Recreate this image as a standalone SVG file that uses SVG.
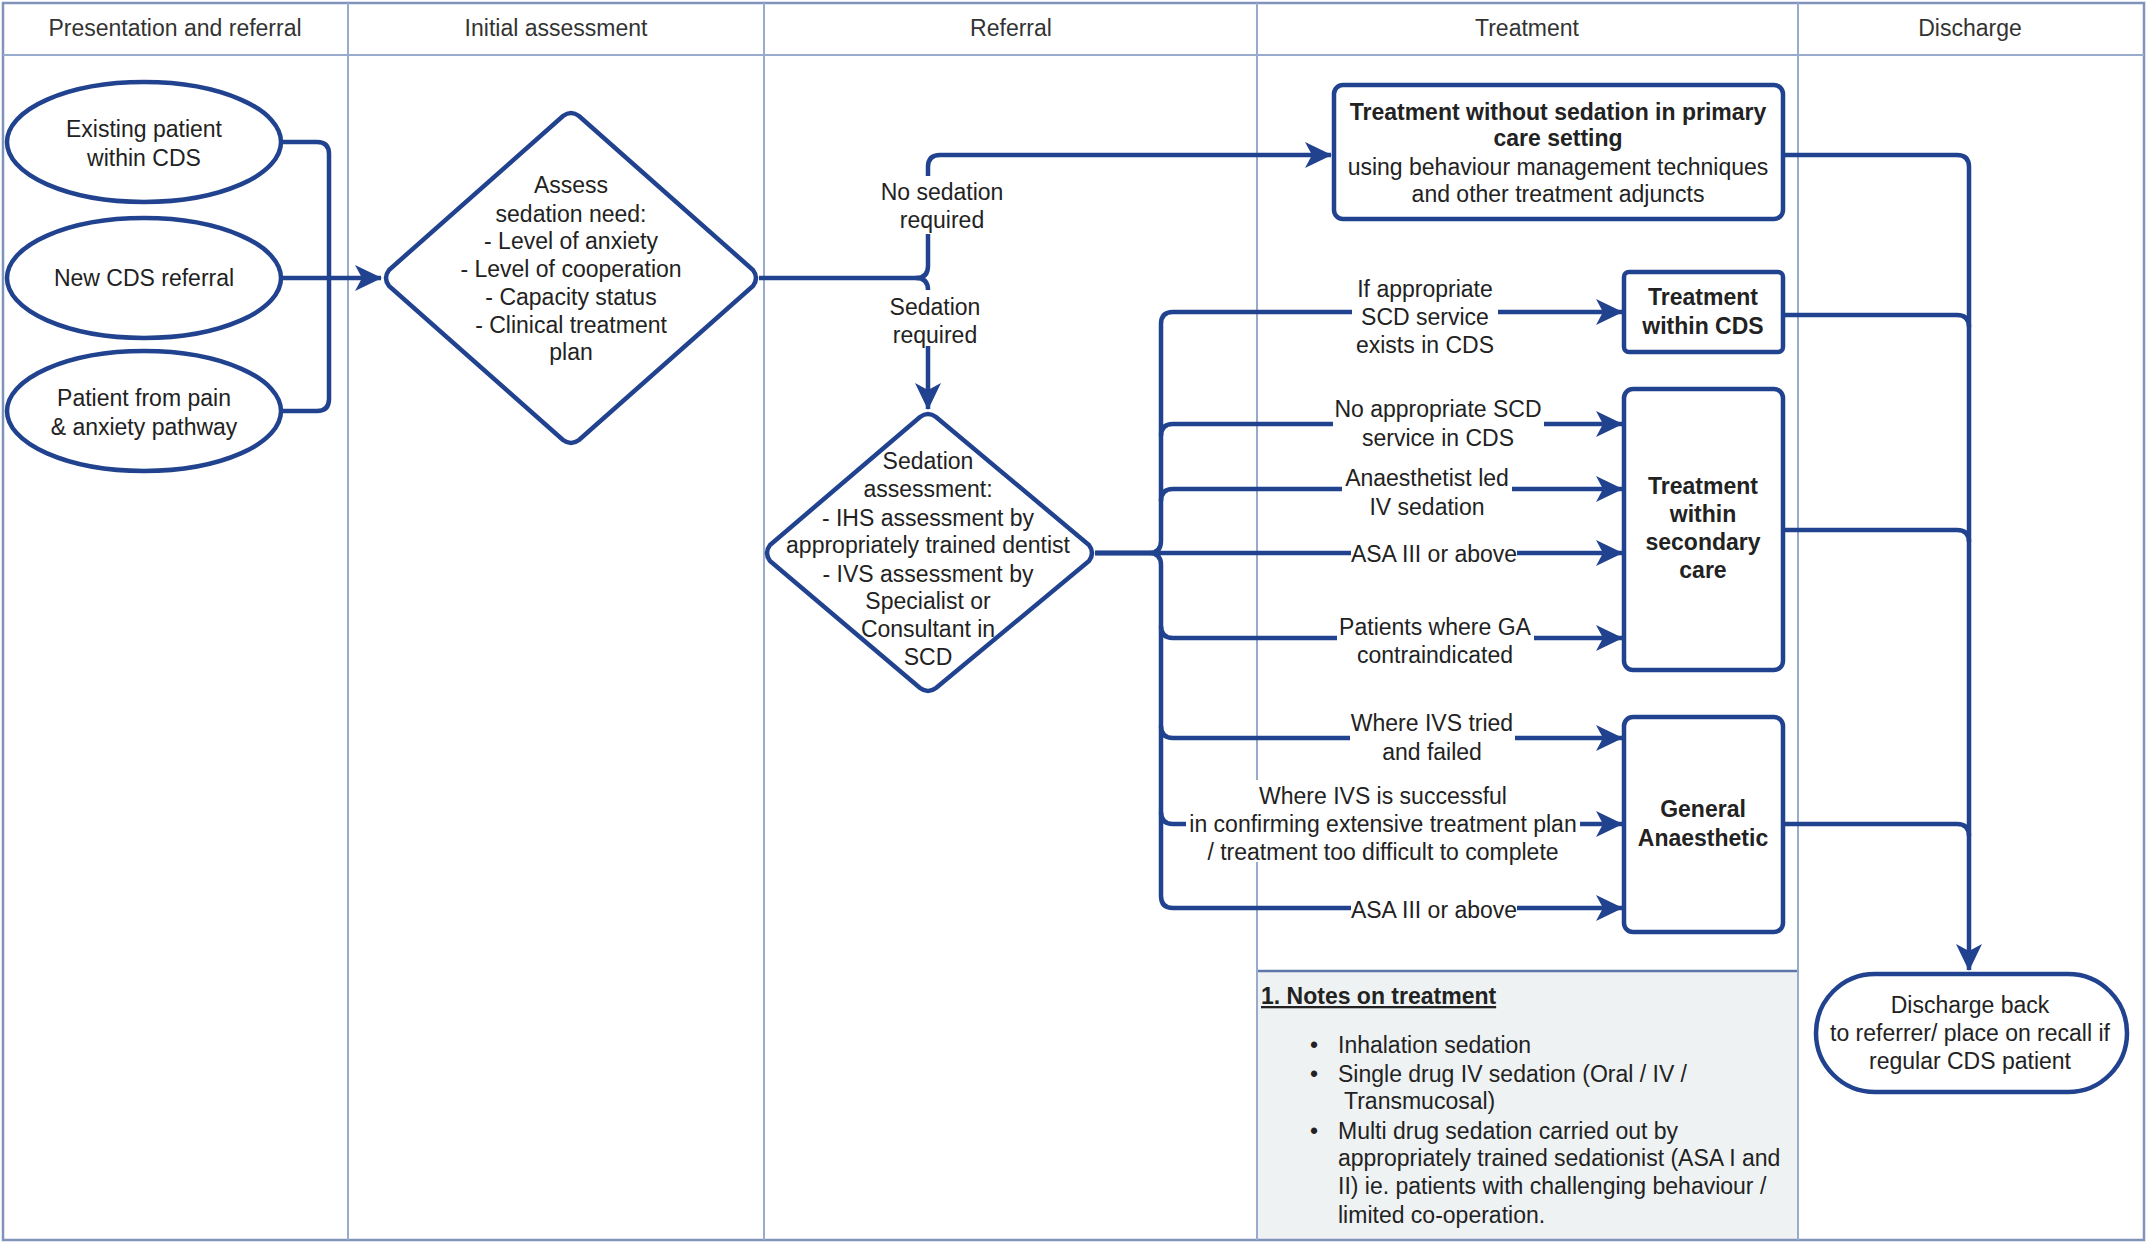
<svg xmlns="http://www.w3.org/2000/svg" width="2147" height="1243" viewBox="0 0 2147 1243">
<defs>
<marker id="arr" markerUnits="userSpaceOnUse" markerWidth="28" markerHeight="28" viewBox="0 0 28 28" refX="26" refY="14" orient="auto">
<path d="M0,1 L27,14 L0,27 L7,14 Z" fill="#21428f"/>
</marker>
<style>
.lane{stroke:#98abcc;stroke-width:2;fill:none}
.frame{stroke:#7f93bb;stroke-width:2.5;fill:none}
.hd{font-family:"Liberation Sans",Arial,sans-serif;font-size:23px;fill:#333;text-anchor:middle}
.node{fill:#fff;stroke:#21428f;stroke-width:4.5}
.t{font-family:"Liberation Sans",Arial,sans-serif;font-size:23px;fill:#222;text-anchor:middle}
.b{font-weight:bold}
.c{fill:none;stroke:#21428f;stroke-width:4.5;stroke-linejoin:round}
.ca{fill:none;stroke:#21428f;stroke-width:4.5;stroke-linejoin:round;marker-end:url(#arr)}
.lbg{fill:#fff}
.n{font-family:"Liberation Sans",Arial,sans-serif;font-size:23px;fill:#222}
</style>
</defs>
<rect width="2147" height="1243" fill="#fff"/>
<g id="lanes">
<rect x="1257" y="971" width="541" height="269" fill="#eef2f3"/>
<line x1="1257" y1="971" x2="1798" y2="971" stroke="#5f77a6" stroke-width="2.5"/>
<rect class="frame" x="3" y="3" width="2141" height="1237"/>
<line class="lane" x1="3" y1="55" x2="2144" y2="55"/>
<line class="lane" x1="348" y1="3" x2="348" y2="1240"/>
<line class="lane" x1="764" y1="3" x2="764" y2="1240"/>
<line class="lane" x1="1257" y1="3" x2="1257" y2="1240"/>
<line class="lane" x1="1798" y1="3" x2="1798" y2="1240"/>
<text class="hd" x="175" y="36">Presentation and referral</text>
<text class="hd" x="556" y="36">Initial assessment</text>
<text class="hd" x="1011" y="36">Referral</text>
<text class="hd" x="1527" y="36">Treatment</text>
<text class="hd" x="1970" y="36">Discharge</text>
</g>
<g id="connectors">
<path class="c" d="M281,142 H317 Q329,142 329,154 V278"/>
<path class="c" d="M281,411 H317 Q329,411 329,399 V278"/>
<path class="ca" d="M281,278 H381"/>
<path class="ca" d="M759,278 H916 Q928,278 928,266 V167 Q928,155 940,155 H1331"/>
<path class="ca" d="M916,278 Q928,278 928,290 V409"/>
<path class="ca" d="M1095,553 H1149 Q1161,553 1161,541 V324 Q1161,312 1173,312 H1622"/>
<path class="ca" d="M1161,436 Q1161,424 1173,424 H1622"/>
<path class="ca" d="M1161,501 Q1161,489 1173,489 H1622"/>
<path class="ca" d="M1095,553 H1622"/>
<path class="ca" d="M1095,553 H1149 Q1161,553 1161,565 V896 Q1161,908 1173,908 H1622"/>
<path class="ca" d="M1161,626 Q1161,638 1173,638 H1622"/>
<path class="ca" d="M1161,726 Q1161,738 1173,738 H1622"/>
<path class="ca" d="M1161,812 Q1161,824 1173,824 H1622"/>
<path class="ca" d="M1785,155 H1957 Q1969,155 1969,167 V970"/>
<path class="c" d="M1785,315 H1957 Q1969,315 1969,327"/>
<path class="c" d="M1785,530 H1957 Q1969,530 1969,542"/>
<path class="c" d="M1785,824 H1957 Q1969,824 1969,836"/>
<rect class="lbg" x="870" y="176" width="144" height="58"/>
<text class="t" x="942" y="200">No sedation</text>
<text class="t" x="942" y="228">required</text>
<rect class="lbg" x="880" y="290" width="110" height="56"/>
<text class="t" x="935" y="315">Sedation</text>
<text class="t" x="935" y="343">required</text>
<rect class="lbg" x="1352" y="272" width="146" height="82"/>
<text class="t" x="1425" y="297">If appropriate</text>
<text class="t" x="1425" y="325">SCD service</text>
<text class="t" x="1425" y="353">exists in CDS</text>
<rect class="lbg" x="1333" y="394" width="211" height="54"/>
<text class="t" x="1438" y="417">No appropriate SCD</text>
<text class="t" x="1438" y="446">service in CDS</text>
<rect class="lbg" x="1342" y="464" width="170" height="52"/>
<text class="t" x="1427" y="486">Anaesthetist led</text>
<text class="t" x="1427" y="515">IV sedation</text>
<rect class="lbg" x="1351" y="540" width="166" height="28"/>
<text class="t" x="1434" y="562">ASA III or above</text>
<rect class="lbg" x="1337" y="612" width="197" height="52"/>
<text class="t" x="1435" y="635">Patients where GA</text>
<text class="t" x="1435" y="663">contraindicated</text>
<rect class="lbg" x="1350" y="709" width="165" height="52"/>
<text class="t" x="1432" y="731">Where IVS tried</text>
<text class="t" x="1432" y="760">and failed</text>
<rect class="lbg" x="1186" y="780" width="394" height="82"/>
<text class="t" x="1383" y="804">Where IVS is successful</text>
<text class="t" x="1383" y="832">in confirming extensive treatment plan</text>
<text class="t" x="1383" y="860">/ treatment too difficult to complete</text>
<rect class="lbg" x="1351" y="895" width="166" height="28"/>
<text class="t" x="1434" y="918">ASA III or above</text>
</g>
<g id="n_existing">
<ellipse class="node" cx="144" cy="142" rx="137" ry="60"/>
<text class="t" x="144" y="137">Existing patient</text>
<text class="t" x="144" y="166">within CDS</text>
</g>
<g id="n_new">
<ellipse class="node" cx="144" cy="278" rx="137" ry="60"/>
<text class="t" x="144" y="286">New CDS referral</text>
</g>
<g id="n_pain">
<ellipse class="node" cx="144" cy="411" rx="137" ry="60"/>
<text class="t" x="144" y="406">Patient from pain</text>
<text class="t" x="144" y="435">&amp; anxiety pathway</text>
</g>
<g id="n_assess">
<path class="node" d="M563,116 Q571,110 579,116 L753,270 Q759,278 753,286 L579,440 Q571,446 563,440 L389,286 Q383,278 389,270 Z"/>
<text class="t" x="571" y="193">Assess</text>
<text class="t" x="571" y="222">sedation need:</text>
<text class="t" x="571" y="249">- Level of anxiety</text>
<text class="t" x="571" y="277">- Level of cooperation</text>
<text class="t" x="571" y="305">- Capacity status</text>
<text class="t" x="571" y="333">- Clinical treatment</text>
<text class="t" x="571" y="360">plan</text>
</g>
<g id="n_sedassess">
<path class="node" d="M920,417 Q928,411 936,417 L1089,545 Q1095,553 1089,561 L936,688 Q928,694 920,688 L770,561 Q764,553 770,545 Z"/>
<text class="t" x="928" y="469">Sedation</text>
<text class="t" x="928" y="497">assessment:</text>
<text class="t" x="928" y="526">- IHS assessment by</text>
<text class="t" x="928" y="553">appropriately trained dentist</text>
<text class="t" x="928" y="582">- IVS assessment by</text>
<text class="t" x="928" y="609">Specialist or</text>
<text class="t" x="928" y="637">Consultant in</text>
<text class="t" x="928" y="665">SCD</text>
</g>
<g id="n_nosed">
<rect class="node" x="1334" y="85" width="449" height="134" rx="9"/>
<text class="t b" x="1558" y="120">Treatment without sedation in primary</text>
<text class="t b" x="1558" y="146">care setting</text>
<text class="t" x="1558" y="175">using behaviour management techniques</text>
<text class="t" x="1558" y="202">and other treatment adjuncts</text>
</g>
<g id="n_cds">
<rect class="node" x="1624" y="272" width="159" height="80" rx="5"/>
<text class="t b" x="1703" y="305">Treatment</text>
<text class="t b" x="1703" y="334">within CDS</text>
</g>
<g id="n_secondary">
<rect class="node" x="1624" y="389" width="159" height="281" rx="9"/>
<text class="t b" x="1703" y="494">Treatment</text>
<text class="t b" x="1703" y="522">within</text>
<text class="t b" x="1703" y="550">secondary</text>
<text class="t b" x="1703" y="578">care</text>
</g>
<g id="n_ga">
<rect class="node" x="1624" y="717" width="159" height="215" rx="9"/>
<text class="t b" x="1703" y="817">General</text>
<text class="t b" x="1703" y="846">Anaesthetic</text>
</g>
<g id="n_discharge">
<rect class="node" x="1816" y="974" width="311" height="118" rx="59"/>
<text class="t" x="1970" y="1013">Discharge back</text>
<text class="t" x="1970" y="1041">to referrer/ place on recall if</text>
<text class="t" x="1970" y="1069">regular CDS patient</text>
</g>
<g id="n_notes">
<text class="n b" x="1261" y="1004" text-decoration="underline">1. Notes on treatment</text>
<text class="n" x="1310" y="1053">•</text>
<text class="n" x="1338" y="1053">Inhalation sedation</text>
<text class="n" x="1310" y="1082">•</text>
<text class="n" x="1338" y="1082">Single drug IV sedation (Oral / IV /</text>
<text class="n" x="1344" y="1109">Transmucosal)</text>
<text class="n" x="1310" y="1139">•</text>
<text class="n" x="1338" y="1139">Multi drug sedation carried out by</text>
<text class="n" x="1338" y="1166">appropriately trained sedationist (ASA I and</text>
<text class="n" x="1338" y="1194">II) ie. patients with challenging behaviour /</text>
<text class="n" x="1338" y="1223">limited co-operation.</text>
</g>
</svg>
